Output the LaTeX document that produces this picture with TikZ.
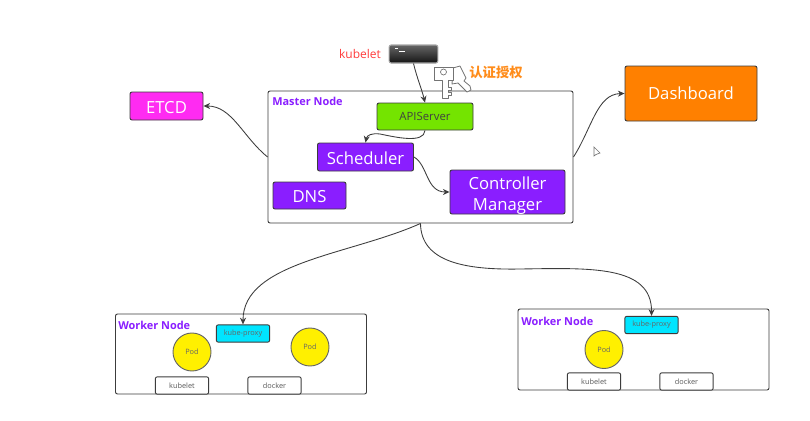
\documentclass[tikz,border=0pt]{standalone}
\usepackage{fontspec}
\setmainfont{Open Sans}
\newfontfamily\cjkfont{Noto Sans CJK SC}
\usetikzlibrary{arrows.meta}
\definecolor{nodepurple}{HTML}{8A1EFF}
\definecolor{linegray}{HTML}{3C3C3C}
\definecolor{apigreen}{HTML}{74E400}
\definecolor{etcdpink}{HTML}{FF2BF2}
\definecolor{dashorange}{HTML}{FF8000}
\definecolor{proxycyan}{HTML}{00E5FF}
\definecolor{podyellow}{HTML}{FFF000}
\definecolor{authorange}{HTML}{FF8C1A}
\definecolor{labelred}{HTML}{FF3B3B}

\begin{document}
\begin{tikzpicture}[x=0.75pt, y=-0.75pt]
        \tikzstyle{box} = [draw=linegray, line width=0.7pt, rounded corners=1.5pt, inner sep=0pt, align=center]
        \tikzstyle{frame} = [box, fill=white]
        \tikzstyle{purple box} = [box, fill=nodepurple, text=white, font=\fontsize{12.5}{15.5}\selectfont]
        \tikzstyle{small box} = [box, fill=white, text=black!65, font=\fontsize{5.5}{7}\selectfont, minimum width=40pt, minimum height=13pt]
        \tikzstyle{proxy box} = [box, fill=proxycyan, text=black!60, font=\fontsize{5.5}{7}\selectfont, minimum width=40pt, minimum height=13pt]
        \tikzstyle{pod} = [circle, draw=black!60, line width=0.7pt, fill=podyellow, text=black!60, inner sep=0pt, minimum size=28.5pt, font=\fontsize{5.5}{7}\selectfont]
        \tikzstyle{title} = [text=nodepurple, inner sep=0pt, anchor=west, font=\fontsize{8.2}{10}\bfseries\selectfont]
        \tikzstyle{flow} = [draw=linegray, line width=0.65pt, -{Stealth[length=5pt, width=4.5pt]}]
        \tikzstyle{key} = [draw=black!55, fill=white, line width=0.6pt, line join=round]

        \useasboundingbox (0, 0) rectangle (810, 421);

        \node[frame, minimum width=228.75pt, minimum height=99pt] (master) at (420.5, 157) {};
        \node[title] (master title) at (272, 101) {Master Node};
        \node[box, fill=apigreen, text=black!75, font=\fontsize{8.5}{10}\selectfont, minimum width=72pt, minimum height=20.25pt] (apiserver) at (425, 116.5) {APIServer};
        \node[purple box, minimum width=72pt, minimum height=21pt] (scheduler) at (365.5, 157) {\rule{0pt}{11pt}Scheduler};
        \node[purple box, minimum width=54.75pt, minimum height=20.25pt] (dns) at (309.5, 195.5) {\rule{0pt}{11pt}DNS};
        \node[purple box, minimum width=86.25pt, minimum height=33pt] (controller) at (507.5, 192) {\rule{0pt}{14.5pt}Controller\\Manager};
        \node[box, fill=etcdpink, text=white, font=\fontsize{12.5}{15}\selectfont, minimum width=54.75pt, minimum height=21pt] (etcd) at (166.5, 106) {\rule{0pt}{11pt}ETCD};
        \node[box, fill=dashorange, text=white, font=\fontsize{12.5}{15}\selectfont, minimum width=99pt, minimum height=41.25pt] (dashboard) at (691, 93.5) {Dashboard};

        % left worker
        \node[frame, minimum width=188.25pt, minimum height=60pt] (worker a) at (241, 354) {};
        \node[title] (worker a title) at (118, 325) {Worker Node};
        \node[proxy box] (proxy a) at (243, 333.5) {kube-proxy};
        \node[pod] (pod a) at (192, 352) {Pod};
        \node[pod] (pod b) at (310, 347) {Pod};
        \node[small box] (kubelet a) at (182, 385.5) {kubelet};
        \node[small box] (docker a) at (274.5, 385.5) {docker};

        % right worker
        \node[frame, minimum width=188.25pt, minimum height=60.75pt] (worker b) at (643.5, 349.5) {};
        \node[title] (worker b title) at (521, 321) {Worker Node};
        \node[proxy box] (proxy b) at (651.5, 325) {kube-proxy};
        \node[pod] (pod c) at (604, 349.5) {Pod};
        \node[small box] (kubelet b) at (594, 381.5) {kubelet};
        \node[small box] (docker b) at (686.5, 381.5) {docker};

        % terminal icon and keys
        \node[rounded corners=1.5pt, draw=black!35, line width=0.8pt, top color=black!60, bottom color=black!92, minimum width=36.5pt, minimum height=13.5pt, inner sep=0pt] (terminal) at (413.5, 54) {};
        \draw[white, line width=0.6pt] (395, 48) -- (398, 48) (399, 51) -- (405, 51);
        \node[text=labelred, inner sep=0pt, font=\fontsize{9}{11}\selectfont] (kubelet label) at (360, 54) {kubelet};
        \node[text=authorange, inner sep=0pt, font=\cjkfont\fontsize{10}{12}\bfseries\selectfont] (auth label) at (496, 72) {认证授权};
        \draw[key] (453, 68) -- (460, 66) -- (466, 78) -- (464, 81) -- (470, 86) -- (471, 90) -- (467, 92) -- (458, 83) -- (452, 84) -- cycle;
        \draw[key] (434, 67) -- (453, 67) -- (453, 80) -- (448, 80) -- (448, 87) -- (451, 87) -- (451, 90) -- (448, 90) -- (448, 92) -- (451, 92) -- (451, 95) -- (448, 95) -- (448, 98) -- (442, 98) -- (442, 80) -- (434, 80) -- cycle;
        \draw[black!55, line width=0.5pt] (443.5, 72) circle[radius=3];

        % mouse cursor
        \draw[black!55, fill=white, line width=0.5pt] (594, 147) -- (594, 156) -- (596, 154.5) -- (600, 153) -- cycle;

        \draw[flow] (terminal.south) .. controls (417, 78) and (422, 90) .. (apiserver.north);
        \draw[flow] (apiserver.south) .. controls (424, 144) and (395, 137) .. (380, 134) .. controls (372, 133) and (367, 135) .. (scheduler.north);
        \draw[flow] (scheduler.east) .. controls (428, 165) and (426, 192) .. (controller.west);
        \draw[flow] (master.west) .. controls (243, 137) and (232, 106) .. (etcd.east);
        \draw[flow] (master.east) .. controls (592, 128) and (597, 94) .. (dashboard.west);
        \draw[flow] (master.south) .. controls (350, 255) and (243, 262) .. (proxy a.north);
        \draw[flow] (master.south) .. controls (421, 262) and (465, 270) .. (520, 269) .. controls (590, 268) and (652, 265) .. (proxy b.north);
\end{tikzpicture}
\end{document}
